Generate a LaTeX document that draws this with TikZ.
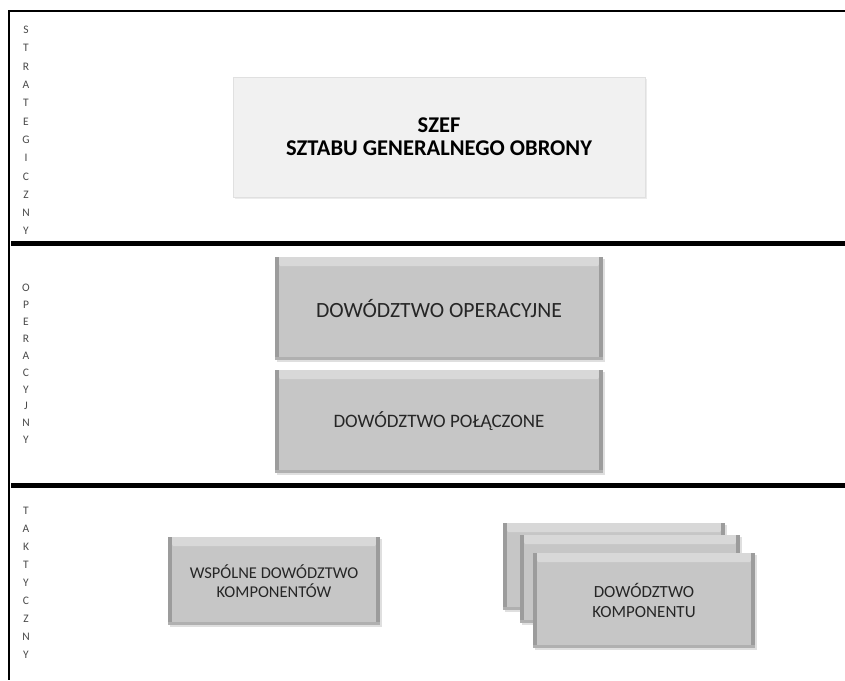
\documentclass[tikz,border=0pt]{standalone}
\usepackage{fontspec}
\setmainfont{Carlito}
\usetikzlibrary{shadows}
\definecolor{facegray}{HTML}{C6C6C6}
\definecolor{lightface}{HTML}{F1F1F1}
\definecolor{sidegray}{HTML}{9C9C9C}
\definecolor{topgray}{HTML}{D8D8D8}
\definecolor{lettergray}{HTML}{4A4A4A}
\tikzset{
  x=1pt, y=-1pt,
  frame/.style={draw=black, line width=2pt},
  divider/.style={draw=black, line width=5pt},
  sideletters/.style={text=lettergray, align=center, inner sep=0pt},
  bevelbox/.style={rectangle, fill=facegray, inner sep=0pt, align=center, text=black!85,
    drop shadow={shadow xshift=2pt, shadow yshift=-2pt, opacity=0.25},
    path picture={
      \fill[topgray] (path picture bounding box.north west) -- (path picture bounding box.north east)
        -- ([xshift=-5pt,yshift=-9pt]path picture bounding box.north east)
        -- ([xshift=5pt,yshift=-9pt]path picture bounding box.north west) -- cycle;
      \fill[sidegray] (path picture bounding box.north west) rectangle ([xshift=4pt]path picture bounding box.south west);
      \fill[sidegray] (path picture bounding box.north east) rectangle ([xshift=-4pt]path picture bounding box.south east);
      \fill[sidegray!80] (path picture bounding box.south west) rectangle ([yshift=3pt]path picture bounding box.south east);
    }},
  chiefbox/.style={rectangle, fill=lightface, draw=black!12, line width=0.6pt, inner sep=0pt, align=center,
    drop shadow={shadow xshift=2pt, shadow yshift=-2pt, opacity=0.15}},
}
\begin{document}
\begin{tikzpicture}
  \useasboundingbox (0,0) rectangle (845,680);
  \fill[white] (0,0) rectangle (845,680);

  % outer frame and level dividers
  \draw[frame] (845,10.5) -- (9,10.5) -- (9,680);
  \draw[divider] (11,243.5) -- (845,243.5);
  \draw[divider] (11,485) -- (845,485);

  % level names, one letter per line
  \node[sideletters, anchor=north, font=\fontsize{11.5}{18.3}\selectfont] (lvlS) at (26,26) {S\\T\\R\\A\\T\\E\\G\\I\\C\\Z\\N\\Y};
  \node[sideletters, anchor=north, font=\fontsize{11.5}{16.9}\selectfont] (lvlO) at (26,284) {O\\P\\E\\R\\A\\C\\Y\\J\\N\\Y};
  \node[sideletters, anchor=north, font=\fontsize{11.5}{18}\selectfont] (lvlT) at (26,507) {T\\A\\K\\T\\Y\\C\\Z\\N\\Y};

  % strategic level
  \node[chiefbox, minimum width=412pt, minimum height=120pt, font=\bfseries\fontsize{22.5}{23}\selectfont]
    (chief) at (439,137) {SZEF\\SZTABU GENERALNEGO OBRONY};

  % operational level
  \node[bevelbox, minimum width=328pt, minimum height=103pt, font=\fontsize{21.7}{24}\selectfont]
    (opcmd) at (439,308.5) {DOWÓDZTWO OPERACYJNE};
  \node[bevelbox, minimum width=328pt, minimum height=103pt, font=\fontsize{19}{22}\selectfont]
    (jointcmd) at (439,421.5) {DOWÓDZTWO POŁĄCZONE};

  % tactical level
  \node[bevelbox, minimum width=212pt, minimum height=88pt, font=\fontsize{16.5}{19}\selectfont]
    (jfcc) at (274,581) {WSPÓLNE DOWÓDZTWO\\KOMPONENTÓW};
  \node[bevelbox, minimum width=222pt, minimum height=87pt] (cc3) at (614,566.5) {};
  \node[bevelbox, minimum width=220pt, minimum height=88pt] (cc2) at (630,579) {};
  \node[bevelbox, minimum width=222pt, minimum height=95pt, font=\fontsize{17}{20}\selectfont]
    (cc1) at (644,600.5) {DOWÓDZTWO\\KOMPONENTU};
\end{tikzpicture}
\end{document}
